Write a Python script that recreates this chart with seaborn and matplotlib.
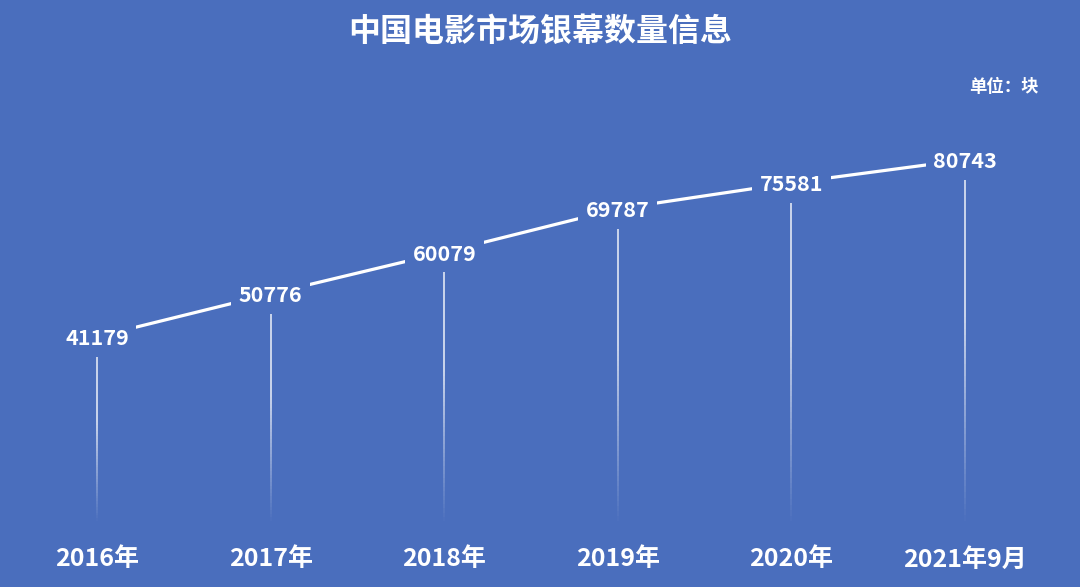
import numpy as np
import pandas as pd
import seaborn as sns
import matplotlib.pyplot as plt
from matplotlib.collections import LineCollection

# 数据
years = ['2016年', '2017年', '2018年', '2019年', '2020年', '2021年9月']
screens = [41179, 50776, 60079, 69787, 75581, 80743]

bg = '#4a6ebd'

sns.set_theme(style='white')
plt.rcParams['font.family'] = ['Noto Sans CJK SC', 'DejaVu Sans']
plt.rcParams['axes.unicode_minus'] = False

df = pd.DataFrame({'idx': range(len(years)), 'screens': screens})

fig = plt.figure(figsize=(10.8, 5.87), dpi=100, facecolor=bg)
ax = fig.add_axes([0, 0.1124, 1, 0.7172])
ax.set_facecolor(bg)

sns.lineplot(x='idx', y='screens', data=df, ax=ax, color='white',
             linewidth=2.3, zorder=2)

# 竖线（渐隐）
for i, v in enumerate(screens):
    top = v - 4000
    ys = np.linspace(top, 0, 60)
    segs = [[(i, ys[k]), (i, ys[k + 1])] for k in range(len(ys) - 1)]
    n = len(segs)
    alphas = [0.9 if k < n * 0.4 else 0.9 * (n - k) / (n * 0.6) for k in range(n)]
    cols = [(1, 1, 1, a) for a in alphas]
    ax.add_collection(LineCollection(segs, colors=cols, linewidths=1.1, zorder=1))

# 数据标签
for i, v in enumerate(screens):
    ax.text(i, v - 400, str(v), ha='center', va='center', color='white',
            fontsize=15.5, fontweight='bold', zorder=3,
            bbox=dict(boxstyle='square,pad=0.35', facecolor=bg, edgecolor='none'))

ax.set_xlim(-0.559, 5.662)
ax.set_ylim(0, 94100)
ax.set_xticks(range(len(years)))
ax.set_xticklabels(years, color='white', fontsize=18, fontweight='bold')
ax.tick_params(axis='x', length=0, pad=19)
ax.set_yticks([])
ax.set_xlabel('')
ax.set_ylabel('')
sns.despine(ax=ax, left=True, bottom=True)

fig.text(0.5, 1 - 32 / 587, '中国电影市场银幕数量信息', ha='center', va='center',
         color='white', fontsize=23, fontweight='bold')
fig.text(1004 / 1080, 1 - 87 / 587, '单位：块', ha='center', va='center',
         color='white', fontsize=12.5, fontweight='bold')

plt.savefig('out.png', dpi=100, facecolor=bg)
